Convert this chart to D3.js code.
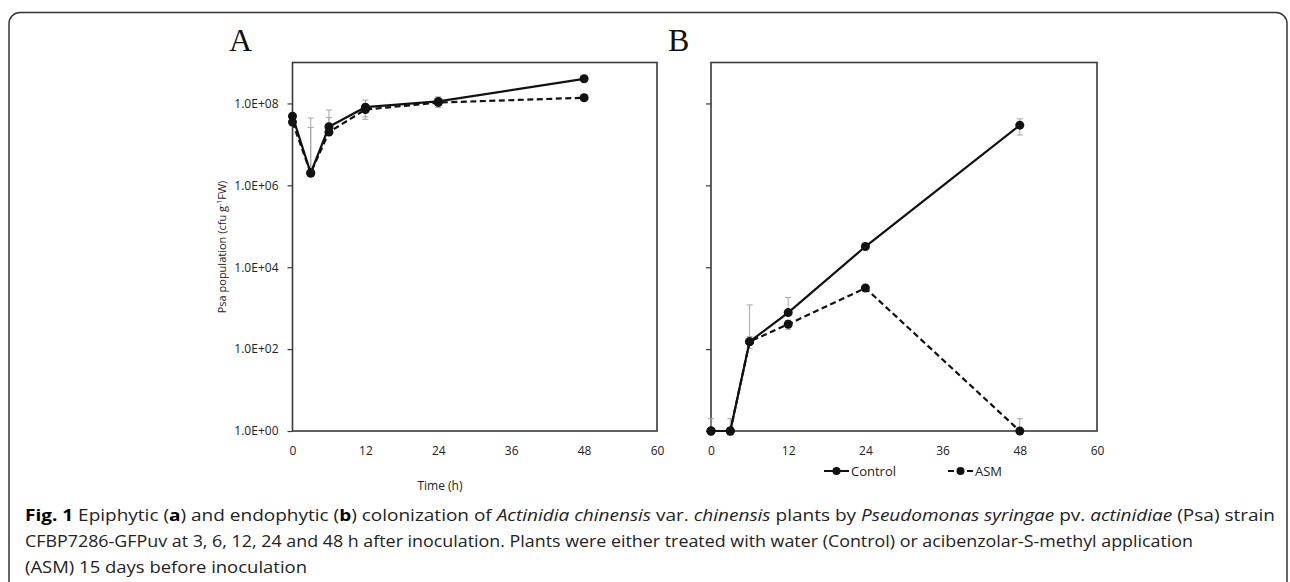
<!DOCTYPE html>
<html>
<head>
<meta charset="utf-8">
<script src="https://cdn.jsdelivr.net/npm/d3@7"></script>
<style>
  body { margin: 0; background: #fff; }
  svg { display: block; }
</style>
</head>
<body>
<div id="chart-wrapper"></div>
<script>
////////////////////////// Data //////////////////////////
const times = [0, 3, 6, 12, 24, 48]
const xTicks = [0, 12, 24, 36, 48, 60]
const yTicks = [1, 1e2, 1e4, 1e6, 1e8]

// A - epiphytic
const epiControl = [4.9e7, 2.0e6, 2.7e7, 8.1e7, 1.12e8, 4.0e8]
const epiControlSd = [5e6, 4.2e7, 4.2e7, 4.0e7, 3.3e7, 3.0e7]
const epiAsm = [3.5e7, 2.0e6, 2.0e7, 7.1e7, 1.05e8, 1.38e8]
const epiAsmSd = [4e6, 2.4e7, 2.5e7, 2.4e7, 1.5e7, 1.0e7]

// B - endophytic
const endoControl = [1, 1, 152, 780, 3.2e4, 2.95e7]
const endoControlSd = [1.0, 1.0, 1050, 1040, 3000, 1.25e7]
const endoAsm = [1, 1, 152, 405, 3100, 1]
const endoAsmSd = [0.2, 0.2, 50, 100, 300, 1.0]

const seriesNames = ["Control", "ASM"]

////////////////////////// Setup //////////////////////////
const width = 1290
const height = 582
const ink = "#111"
const axisColour = "#3a3a3a"
const errColour = "#a6a6a6"
const uiFont = "'Open Sans', 'Noto Sans', sans-serif"

const svg = d3.select("#chart-wrapper")
  .append("svg")
    .attr("width", width)
    .attr("height", height)

// outer frame
svg.append("rect")
  .attr("x", 9).attr("y", 12.5)
  .attr("width", 1278).attr("height", 600)
  .attr("rx", 11)
  .attr("fill", "none")
  .attr("stroke", "#333")
  .attr("stroke-width", 1.5)

const yScale = d3.scaleLog().domain([1, 1e9]).range([431, 62.5])
const fmtE = d => "1.0E+" + String(Math.round(Math.log10(d))).padStart(2, "0")

const panels = [
  {key: "A", x0: 292.5, x1: 657, ctrl: epiControl, ctrlSd: epiControlSd, asm: epiAsm, asmSd: epiAsmSd, labels: true, letterX: 229},
  {key: "B", x0: 711, x1: 1097, ctrl: endoControl, ctrlSd: endoControlSd, asm: endoAsm, asmSd: endoAsmSd, labels: false, letterX: 668}
]

panels.forEach(p => {
  const xScale = d3.scaleLinear().domain([0, 60]).range([p.x0, p.x1])
  const g = svg.append("g").attr("class", "panel-" + p.key)

  // y axis
  g.append("g")
    .attr("transform", `translate(${p.x0},0)`)
    .call(d3.axisLeft(yScale).tickValues(yTicks).tickSizeInner(5).tickSizeOuter(0).tickPadding(9)
      .tickFormat(p.labels ? fmtE : () => ""))
    .call(g => g.select(".domain").remove())
    .call(g => g.selectAll(".tick line").attr("stroke", axisColour).attr("stroke-width", 1.2))
    .call(g => g.selectAll(".tick text").attr("fill", "#222").style("font-family", uiFont).style("font-size", "12px"))

  // x axis
  g.append("g")
    .attr("transform", `translate(0,431)`)
    .call(d3.axisBottom(xScale).tickValues(xTicks).tickSize(0).tickPadding(15))
    .call(g => g.select(".domain").remove())
    .call(g => g.selectAll(".tick text").attr("fill", "#222").style("font-family", uiFont).style("font-size", "12px"))

  // plot box
  g.append("rect")
    .attr("x", p.x0).attr("y", yScale(1e9))
    .attr("width", p.x1 - p.x0).attr("height", yScale(1) - yScale(1e9))
    .attr("fill", "none")
    .attr("stroke", axisColour)
    .attr("stroke-width", 1.6)

  // panel letter
  svg.append("text")
    .attr("x", p.letterX).attr("y", 51)
    .style("font-family", "'Liberation Serif', 'DejaVu Serif', serif")
    .style("font-size", "32px")
    .attr("fill", ink)
    .text(p.key)

  const series = [
    {name: "Control", vals: p.ctrl, sd: p.ctrlSd, dash: null},
    {name: "ASM", vals: p.asm, sd: p.asmSd, dash: "6,3.5"}
  ]

  // error bars (linear +/- sd, lower part dropped when not positive)
  series.forEach(s => {
    const eb = g.append("g").attr("class", "err")
    times.forEach((t, i) => {
      const v = s.vals[i], e = s.sd[i]
      const x = xScale(t)
      const hi = yScale(v + e)
      const lo = v - e > 0 ? yScale(v - e) : yScale(v)
      eb.append("line").attr("x1", x).attr("x2", x).attr("y1", hi).attr("y2", lo)
        .attr("stroke", errColour).attr("stroke-width", 1)
      eb.append("line").attr("x1", x - 3).attr("x2", x + 3).attr("y1", hi).attr("y2", hi)
        .attr("stroke", errColour).attr("stroke-width", 1)
      if (v - e > 0) {
        eb.append("line").attr("x1", x - 3).attr("x2", x + 3).attr("y1", lo).attr("y2", lo)
          .attr("stroke", errColour).attr("stroke-width", 1)
      }
    })
  })

  // lines + markers
  const line = d3.line().x(d => xScale(d[0])).y(d => yScale(d[1]))
  series.slice().reverse().forEach(s => {
    const pts = times.map((t, i) => [t, s.vals[i]])
    g.append("path")
      .datum(pts)
      .attr("d", line)
      .attr("fill", "none")
      .attr("stroke", ink)
      .attr("stroke-width", 2.2)
      .attr("stroke-dasharray", s.dash)
    g.selectAll(null)
      .data(pts)
      .join("circle")
        .attr("cx", d => xScale(d[0]))
        .attr("cy", d => yScale(d[1]))
        .attr("r", 4.5)
        .attr("fill", ink)
  })
})

// axis titles
svg.append("text")
  .attr("transform", `translate(226,247) rotate(-90)`)
  .attr("text-anchor", "middle")
  .style("font-family", uiFont)
  .style("font-size", "11px")
  .attr("fill", "#222")
  .call(t => {
    t.append("tspan").text("Psa population (cfu g")
    t.append("tspan").attr("baseline-shift", "super").style("font-size", "7px").text("-1")
    t.append("tspan").text("FW)")
  })

svg.append("text")
  .attr("x", 440).attr("y", 490)
  .attr("text-anchor", "middle")
  .style("font-family", uiFont)
  .style("font-size", "12px")
  .attr("fill", "#222")
  .text("Time (h)")

// legend
const legend = svg.append("g").attr("transform", "translate(0,471)")
const legendItems = [
  {name: seriesNames[0], x: 824, dash: null},
  {name: seriesNames[1], x: 948, dash: "6,3.5"}
]
legendItems.forEach(l => {
  legend.append("line").attr("x1", l.x).attr("x2", l.x + 25).attr("y1", 0).attr("y2", 0)
    .attr("stroke", ink).attr("stroke-width", 2).attr("stroke-dasharray", l.dash)
  legend.append("circle").attr("cx", l.x + 12.5).attr("cy", 0).attr("r", 4).attr("fill", ink)
  legend.append("text").attr("x", l.x + 27).attr("y", 4.5)
    .style("font-family", uiFont).style("font-size", "13px").attr("fill", "#222")
    .text(l.name)
})

////////////////////////// Caption //////////////////////////
const captionLines = [
  {y: 521, len: 1250, parts: [
    ["Fig. 1", "b"], [" Epiphytic (", ""], ["a", "b"], [") and endophytic (", ""], ["b", "b"],
    [") colonization of ", ""], ["Actinidia chinensis", "i"], [" var. ", ""], ["chinensis", "i"],
    [" plants by ", ""], ["Pseudomonas syringae", "i"], [" pv. ", ""], ["actinidiae", "i"], [" (Psa) strain", ""]]},
  {y: 547, len: 1168, parts: [
    ["CFBP7286-GFPuv at 3, 6, 12, 24 and 48 h after inoculation. Plants were either treated with water (Control) or acibenzolar-S-methyl application", ""]]},
  {y: 573, len: 282, parts: [["(ASM) 15 days before inoculation", ""]]}
]
captionLines.forEach(c => {
  const t = svg.append("text")
    .attr("x", 25).attr("y", c.y)
    .attr("textLength", c.len)
    .attr("lengthAdjust", "spacingAndGlyphs")
    .style("font-family", uiFont)
    .style("font-size", "16px")
    .attr("fill", "#222")
  c.parts.forEach(([txt, st]) => {
    t.append("tspan")
      .style("font-weight", st === "b" ? "bold" : null)
      .style("font-style", st === "i" ? "italic" : null)
      .attr("fill", st === "b" ? "#000" : null)
      .text(txt)
  })
})
</script>
</body>
</html>
